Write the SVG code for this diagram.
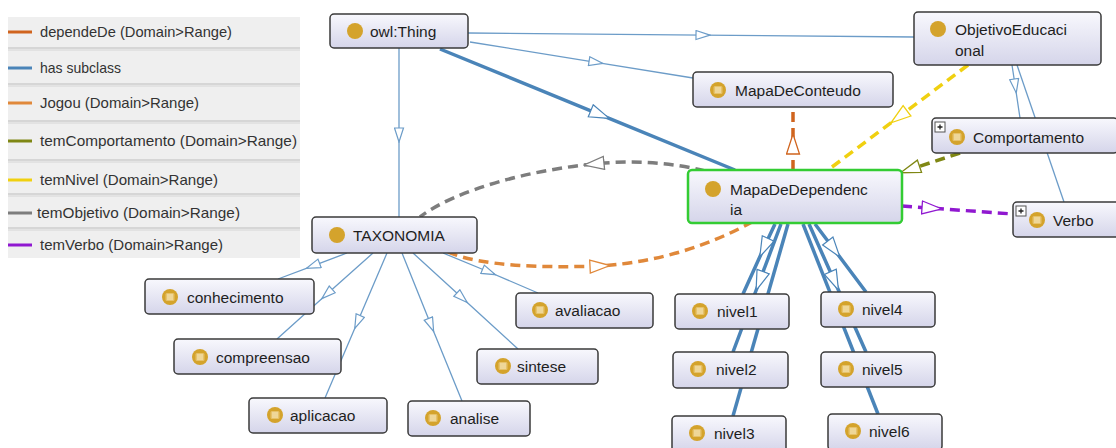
<svg xmlns="http://www.w3.org/2000/svg" width="1116" height="448" viewBox="0 0 1116 448">
<style>
text{font-family:"Liberation Sans",Arial,sans-serif}
.lbl{font-size:15.5px;fill:#1e1e1e}
.leg{font-size:14.5px;fill:#333}
.box{fill:url(#ng);stroke:#3a3a3a;stroke-width:1.5}
.sel{fill:url(#ng);stroke:#33cc33;stroke-width:2.5}
.sub{fill:none;stroke:#6c9cc8;stroke-width:1.3}
.subT{fill:none;stroke:#4a84b8;stroke-width:3.5}
.dash{fill:none;stroke-width:3.5;stroke-dasharray:10 6}
.sep1{stroke:#bdbdbd;stroke-width:1}
.sep2{stroke:#d6d6d6;stroke-width:1}
</style>
<defs>
<linearGradient id="ng" x1="0" y1="0" x2="0" y2="1">
<stop offset="0" stop-color="#f8f8fd"/>
<stop offset="1" stop-color="#d5d5ea"/>
</linearGradient>
<marker id="mThin" viewBox="0 0 16 11" refX="8" refY="5.5" markerWidth="16" markerHeight="11" markerUnits="userSpaceOnUse" orient="auto">
<path d="M1,1 L15,5.5 L1,10 Z" fill="#fff" stroke="#6c9cc8" stroke-width="1.2"/>
</marker>
<marker id="mThick" viewBox="0 0 22 15" refX="11" refY="7.5" markerWidth="22" markerHeight="15" markerUnits="userSpaceOnUse" orient="auto">
<path d="M1,1 L21,7.5 L1,14 Z" fill="#fff" stroke="#4a84b8" stroke-width="1.2"/>
</marker>
<marker id="mDep" viewBox="0 0 22 15" refX="11" refY="7.5" markerWidth="22" markerHeight="15" markerUnits="userSpaceOnUse" orient="auto">
<path d="M1,1 L21,7.5 L1,14 Z" fill="#fff" stroke="#d0641e" stroke-width="1.3"/>
</marker>
<marker id="mJog" viewBox="0 0 22 15" refX="11" refY="7.5" markerWidth="22" markerHeight="15" markerUnits="userSpaceOnUse" orient="auto">
<path d="M1,1 L21,7.5 L1,14 Z" fill="#fff" stroke="#e0883a" stroke-width="1.3"/>
</marker>
<marker id="mGray" viewBox="0 0 22 15" refX="11" refY="7.5" markerWidth="22" markerHeight="15" markerUnits="userSpaceOnUse" orient="auto">
<path d="M1,1 L21,7.5 L1,14 Z" fill="#fff" stroke="#7d7d7d" stroke-width="1.3"/>
</marker>
<marker id="mYel" viewBox="0 0 22 15" refX="11" refY="7.5" markerWidth="22" markerHeight="15" markerUnits="userSpaceOnUse" orient="auto">
<path d="M1,1 L21,7.5 L1,14 Z" fill="#fff" stroke="#f0d010" stroke-width="1.3"/>
</marker>
<marker id="mOli" viewBox="0 0 22 15" refX="11" refY="7.5" markerWidth="22" markerHeight="15" markerUnits="userSpaceOnUse" orient="auto">
<path d="M1,1 L21,7.5 L1,14 Z" fill="#fff" stroke="#7f8714" stroke-width="1.3"/>
</marker>
<marker id="mPur" viewBox="0 0 22 15" refX="11" refY="7.5" markerWidth="22" markerHeight="15" markerUnits="userSpaceOnUse" orient="auto">
<path d="M1,1 L21,7.5 L1,14 Z" fill="#fff" stroke="#9018d0" stroke-width="1.3"/>
</marker>
<g id="dot"><circle r="8" fill="#d4a32c"/></g>
<g id="eq"><circle r="8" fill="#d4a32c"/><rect x="-4.5" y="-4" width="9" height="8" rx="1.5" fill="#e6c26a"/><path d="M-3,-2 H3 M-3,0 H3 M-3,2 H3" stroke="#f7ebc5" stroke-width="1"/></g>
<g id="plus"><rect x="0" y="0" width="10" height="10" fill="#fff" stroke="#555" stroke-width="1"/><path d="M2.5,5 H7.5 M5,2.5 V7.5" stroke="#222" stroke-width="1.3"/></g>
</defs>
<rect width="1116" height="448" fill="#fff"/>

<g id="connectors">
<!-- has subclass thin -->
<path class="sub" d="M468,33 L703,35.1 L914,37" marker-mid="url(#mThin)"/>
<path class="sub" d="M470,42 L596,62.3 L693,78" marker-mid="url(#mThin)"/>
<path class="sub" d="M399,48 L399,135 L399,217" marker-mid="url(#mThin)"/>
<path class="sub" d="M1012,65 L1015.2,86 L1020,118" marker-mid="url(#mThin)"/>
<path class="sub" d="M1017,65 L1064,202"/>
<path class="sub" d="M347,253 L313,265.8 L278,279" marker-mid="url(#mThin)"/>
<path class="sub" d="M373,253 L327,294 L277,339" marker-mid="url(#mThin)"/>
<path class="sub" d="M387,253 L357.5,322 L325,398" marker-mid="url(#mThin)"/>
<path class="sub" d="M402,253 L431,325 L462,401" marker-mid="url(#mThin)"/>
<path class="sub" d="M413,253 L462,297.8 L518,349" marker-mid="url(#mThin)"/>
<path class="sub" d="M443,253 L489,272 L538,293" marker-mid="url(#mThin)"/>
<!-- has subclass thick -->
<path class="subT" d="M440,49 L600,114.6 L735,170" marker-mid="url(#mThick)"/>
<path class="subT" d="M775,224 L764,247.6 L743,294" marker-mid="url(#mThick)"/>
<path class="subT" d="M781,224 L759.6,281 L733,352" marker-mid="url(#mThick)"/>
<path class="subT" d="M788,224 L733,416"/>
<path class="subT" d="M815,224 L833.8,249 L866,292" marker-mid="url(#mThick)"/>
<path class="subT" d="M809,224 L834.4,281 L866,352" marker-mid="url(#mThick)"/>
<path class="subT" d="M803,224 L878,414"/>
<!-- dependeDe -->
<path class="dash" stroke="#d0641e" d="M793,170 L793,144 L793,107" marker-mid="url(#mDep)"/>
<!-- temNivel -->
<path class="dash" stroke="#f0d010" d="M968,65 L899,116.8 L828,170" marker-mid="url(#mYel)"/>
<!-- temComportamento -->
<path class="dash" stroke="#7f8714" d="M960,153 L910,169.5 L900,173" marker-mid="url(#mOli)"/>
<!-- temVerbo -->
<path class="dash" stroke="#9018d0" d="M902,206 L932,208.2 L1013,214" marker-mid="url(#mPur)"/>
<!-- temObjetivo -->
<path class="dash" stroke="#7d7d7d" d="M705,171 C670,162 630,160 594,164 C530,170 455,190 420,217" marker-mid="url(#mGray)"/>
<!-- Jogou -->
<path class="dash" stroke="#e0883a" d="M448,252 C480,266 540,268 600,266 C660,262 710,245 752,222" marker-mid="url(#mJog)"/>
</g>

<g id="owlThing"><rect class="box" x="330" y="14" width="138" height="34" rx="4"/><use href="#dot" x="355" y="31"/><text class="lbl" x="370" y="37">owl:Thing</text></g>
<g id="ObjetivoEducacional"><rect class="box" x="914" y="12" width="187" height="53" rx="4"/><use href="#dot" x="938" y="29"/><text class="lbl" x="955" y="35">ObjetivoEducaci</text><text class="lbl" x="955" y="56">onal</text></g>
<g id="MapaDeConteudo"><rect class="box" x="693" y="72" width="200" height="35" rx="4"/><use href="#eq" x="718" y="90"/><text class="lbl" x="735" y="96">MapaDeConteudo</text></g>
<g id="Comportamento"><rect class="box" x="932" y="118" width="186" height="35" rx="4"/><use href="#plus" x="935" y="122"/><use href="#eq" x="957" y="137"/><text class="lbl" x="973" y="143">Comportamento</text></g>
<g id="MapaDeDependencia"><rect class="sel" x="688" y="170" width="214" height="53" rx="4"/><use href="#dot" x="713" y="189"/><text class="lbl" x="730" y="195">MapaDeDependenc</text><text class="lbl" x="730" y="215">ia</text></g>
<g id="Verbo"><rect class="box" x="1013" y="202" width="110" height="35" rx="4"/><use href="#plus" x="1016" y="206"/><use href="#eq" x="1037" y="220"/><text class="lbl" x="1053" y="226">Verbo</text></g>
<g id="TAXONOMIA"><rect class="box" x="312" y="217" width="165" height="36" rx="4"/><use href="#dot" x="337" y="235"/><text class="lbl" x="353" y="241">TAXONOMIA</text></g>
<g id="conhecimento"><rect class="box" x="145" y="279" width="169" height="35" rx="4"/><use href="#eq" x="170" y="297"/><text class="lbl" x="187" y="303">conhecimento</text></g>
<g id="compreensao"><rect class="box" x="174" y="339" width="167" height="35" rx="4"/><use href="#eq" x="200" y="357"/><text class="lbl" x="216" y="363">compreensao</text></g>
<g id="aplicacao"><rect class="box" x="249" y="398" width="138" height="35" rx="4"/><use href="#eq" x="275" y="415"/><text class="lbl" x="290" y="421">aplicacao</text></g>
<g id="analise"><rect class="box" x="408" y="401" width="122" height="35" rx="4"/><use href="#eq" x="433" y="418"/><text class="lbl" x="450" y="424">analise</text></g>
<g id="sintese"><rect class="box" x="477" y="349" width="121" height="35" rx="4"/><use href="#eq" x="503" y="366"/><text class="lbl" x="517" y="372">sintese</text></g>
<g id="avaliacao"><rect class="box" x="516" y="293" width="137" height="35" rx="4"/><use href="#eq" x="540" y="310"/><text class="lbl" x="555" y="316">avaliacao</text></g>
<g id="nivel1"><rect class="box" x="675" y="294" width="114" height="35" rx="4"/><use href="#eq" x="700" y="311"/><text class="lbl" x="717" y="317">nivel1</text></g>
<g id="nivel2"><rect class="box" x="673" y="352" width="115" height="36" rx="4"/><use href="#eq" x="698" y="369"/><text class="lbl" x="716" y="375">nivel2</text></g>
<g id="nivel3"><rect class="box" x="672" y="416" width="114" height="36" rx="4"/><use href="#eq" x="697" y="433"/><text class="lbl" x="714" y="439">nivel3</text></g>
<g id="nivel4"><rect class="box" x="821" y="292" width="114" height="35" rx="4"/><use href="#eq" x="846" y="309"/><text class="lbl" x="862" y="315">nivel4</text></g>
<g id="nivel5"><rect class="box" x="821" y="352" width="114" height="35" rx="4"/><use href="#eq" x="846" y="369"/><text class="lbl" x="862" y="375">nivel5</text></g>
<g id="nivel6"><rect class="box" x="828" y="414" width="114" height="36" rx="4"/><use href="#eq" x="853" y="431"/><text class="lbl" x="869" y="437">nivel6</text></g>

<g id="legend">
<rect x="8" y="17" width="292" height="241" fill="#efefef"/>
<line class="sep1" x1="8" y1="48" x2="300" y2="48"/><line class="sep2" x1="8" y1="50" x2="300" y2="50"/>
<line class="sep1" x1="8" y1="84" x2="300" y2="84"/><line class="sep2" x1="8" y1="86" x2="300" y2="86"/>
<line class="sep1" x1="8" y1="121" x2="300" y2="121"/><line class="sep2" x1="8" y1="123" x2="300" y2="123"/>
<line class="sep1" x1="8" y1="160" x2="300" y2="160"/><line class="sep2" x1="8" y1="162" x2="300" y2="162"/>
<line class="sep1" x1="8" y1="194" x2="300" y2="194"/><line class="sep2" x1="8" y1="196" x2="300" y2="196"/>
<line class="sep1" x1="8" y1="228" x2="300" y2="228"/><line class="sep2" x1="8" y1="230" x2="300" y2="230"/>
<line x1="8" y1="32" x2="32" y2="32" stroke="#d0641e" stroke-width="3"/>
<line x1="8" y1="68" x2="32" y2="68" stroke="#4a84b8" stroke-width="3"/>
<line x1="8" y1="103" x2="32" y2="103" stroke="#e0883a" stroke-width="3"/>
<line x1="8" y1="141" x2="32" y2="141" stroke="#7f8714" stroke-width="3"/>
<line x1="8" y1="180" x2="32" y2="180" stroke="#f0d010" stroke-width="3"/>
<line x1="8" y1="213" x2="32" y2="213" stroke="#7d7d7d" stroke-width="3"/>
<line x1="8" y1="245" x2="32" y2="245" stroke="#9018d0" stroke-width="3"/>
<text class="leg" x="40" y="37" textLength="192" lengthAdjust="spacingAndGlyphs">dependeDe (Domain&gt;Range)</text>
<text class="leg" x="40" y="73" textLength="81" lengthAdjust="spacingAndGlyphs">has subclass</text>
<text class="leg" x="40" y="108" textLength="159" lengthAdjust="spacingAndGlyphs">Jogou (Domain&gt;Range)</text>
<text class="leg" x="40" y="146" textLength="257" lengthAdjust="spacingAndGlyphs">temComportamento (Domain&gt;Range)</text>
<text class="leg" x="40" y="185" textLength="178" lengthAdjust="spacingAndGlyphs">temNivel (Domain&gt;Range)</text>
<text class="leg" x="37" y="218" textLength="203" lengthAdjust="spacingAndGlyphs">temObjetivo (Domain&gt;Range)</text>
<text class="leg" x="40" y="250" textLength="183" lengthAdjust="spacingAndGlyphs">temVerbo (Domain&gt;Range)</text>
</g>
</svg>
